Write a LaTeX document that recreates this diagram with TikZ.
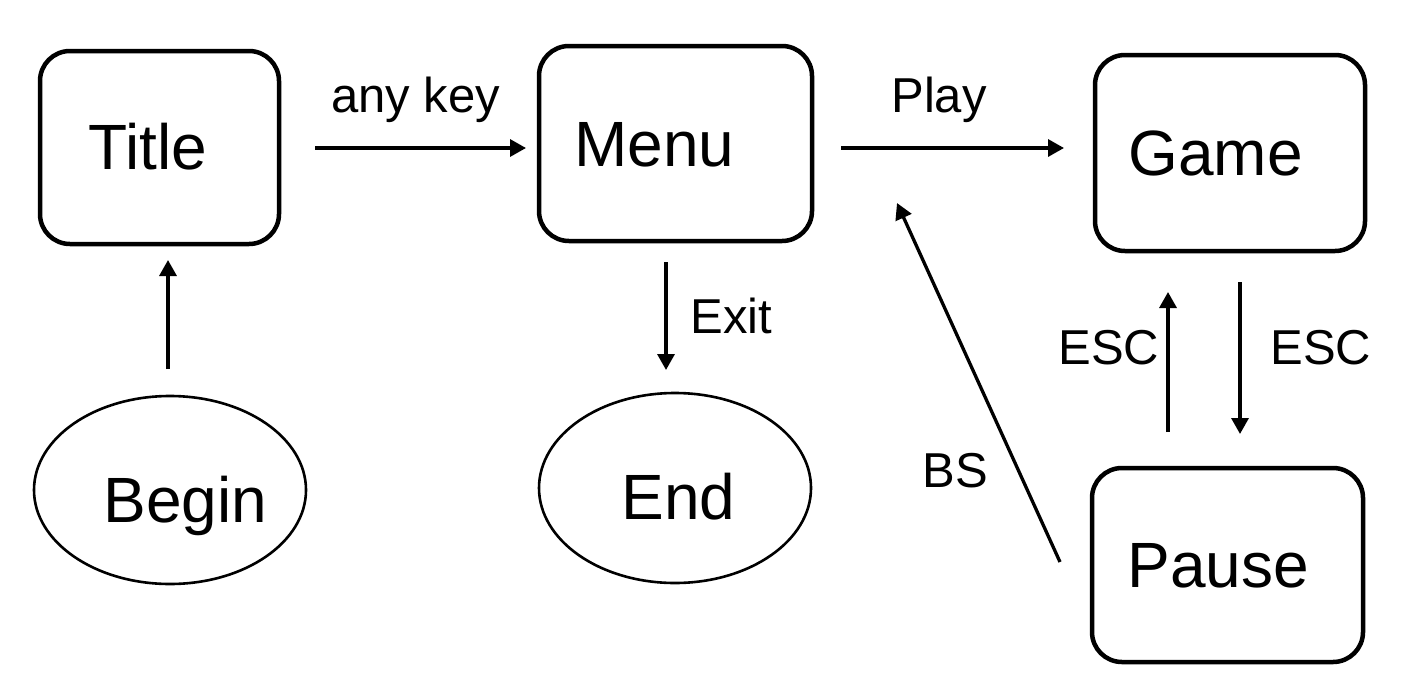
\documentclass[tikz,border=0pt]{standalone}
\usepackage{fontspec}
\setmainfont{Liberation Sans}
\usetikzlibrary{arrows.meta,shapes.geometric}
\begin{document}
\begin{tikzpicture}[x=0.5pt,y=-0.5pt,
  box/.style={draw, line width=2.25pt, rounded corners=15pt, inner sep=0pt, outer sep=0pt},
  oval/.style={draw, ellipse, line width=1.3pt, inner sep=0pt, outer sep=0pt},
  main/.style={font=\fontsize{32}{38}\selectfont, inner sep=0pt, anchor=base west},
  lbl/.style={font=\fontsize{24.5}{29}\selectfont, inner sep=0pt, anchor=base west},
  arr/.style={line width=1.65pt, -{Triangle[length=8pt,width=8.5pt]}}]
\useasboundingbox (0,0) rectangle (1417,696);
% shapes
\node[box, minimum width=119.5pt, minimum height=96.5pt] (title) at (159.5,147.5) {};
\node[box, minimum width=136.5pt, minimum height=97.5pt] (menu) at (675.5,143.5) {};
\node[box, minimum width=135pt, minimum height=98pt] (game) at (1230,153) {};
\node[box, minimum width=135.5pt, minimum height=97pt] (pause) at (1227.5,565) {};
\node[oval, minimum width=136pt, minimum height=94pt] (begin) at (170,490) {};
\node[oval, minimum width=136pt, minimum height=95pt] (end) at (675,488) {};
% texts
\node[main] (ttitle) at (88,169) {Title};
\node[main] (tmenu) at (574,166) {Menu};
\node[main] (tgame) at (1128,175) {Game};
\node[main] (tpause) at (1127,587) {Pause};
\node[main] (tbegin) at (103,522) {Begin};
\node[main] (tend) at (621,519) {End};
% connectors
\draw[arr, shorten <=13.5pt, shorten >=8pt] ([xshift=-1pt]begin.north) -- ([xshift=-1pt]begin.north |- title.south);
\draw[arr, shorten <=18pt, shorten >=6.5pt] ([yshift=-0.25pt]title.east) -- ([yshift=-0.25pt]title.east -| menu.west);
\draw[arr, shorten <=14.5pt, shorten >=15.5pt] ([yshift=-2.25pt]menu.east) -- ([yshift=-2.25pt]menu.east -| game.west);
\draw[arr, shorten <=10.5pt, shorten >=11.5pt] ([xshift=-4.75pt]menu.south) -- ([xshift=-4.75pt]menu.south |- end.north);
\draw[arr, shorten <=15.5pt, shorten >=17pt] ([xshift=5pt]game.south) -- ([xshift=5pt]game.south |- pause.north);
\draw[arr, shorten <=18pt, shorten >=20.5pt] ([xshift=-29.75pt]pause.north) -- ([xshift=-29.75pt]pause.north |- game.south);
\draw[arr] ([xshift=-16pt,yshift=1.5pt]pause.west) -- ([xshift=42.5pt,yshift=19pt]menu.south east);
% labels
\node[lbl] (lany) at (331,112) {any key};
\node[lbl] (lplay) at (891,112) {Play};
\node[lbl] (lexit) at (690,333) {Exit};
\node[lbl] (lesc1) at (1058,364) {ESC};
\node[lbl] (lesc2) at (1270,364) {ESC};
\node[lbl] (lbs) at (922,487) {BS};
\end{tikzpicture}
\end{document}
